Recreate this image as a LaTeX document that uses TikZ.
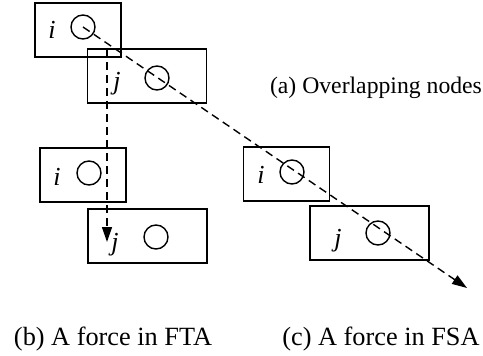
\documentclass[tikz,border=0pt]{standalone}
\usepackage{fontspec}
\setmainfont{Liberation Serif}
\usetikzlibrary{arrows.meta}
\begin{document}
\begin{tikzpicture}[x=1pt,y=-1pt,
  smallbox/.style={draw,line width=1.6pt,minimum width=86pt,minimum height=54pt,inner sep=0pt},
  widebox/.style={draw,line width=1.6pt,minimum width=119pt,minimum height=54pt,inner sep=0pt},
  dot/.style={draw,circle,line width=1.4pt,minimum size=24pt,inner sep=0pt},
  lbl/.style={anchor=base,inner sep=0pt,font=\fontsize{26}{30}\selectfont\itshape},
  caption/.style={anchor=base,inner sep=0pt,font=\fontsize{26.3}{30}\selectfont},
  force/.style={line width=1.4pt,dash pattern=on 8pt off 5pt,-{Triangle[length=15pt,width=10pt]}}]
  \useasboundingbox (0,0) rectangle (483,356);

  % (a) overlapping nodes
  \node[smallbox] (ia) at (78,30) {};
  \node[widebox]  (ja) at (147,76) {};
  \node[dot] (cia) at (83,27) {};
  \node[dot] (cja) at (157,78) {};
  \node[lbl] (lia) at (52,38) {i};
  \node[lbl] (lja) at (117,89) {j};

  % (b) force in FTA
  \node[smallbox] (ib) at (83,175) {};
  \node[widebox]  (jb) at (147.5,236) {};
  \node[dot] (cib) at (89,173) {};
  \node[dot] (cjb) at (156,237) {};
  \node[lbl] (lib) at (57,185) {i};
  \node[lbl] (ljb) at (115,250) {j};

  % (c) force in FSA
  \node[smallbox] (ic) at (286.5,174) {};
  \node[widebox]  (jc) at (369.5,233) {};
  \node[dot] (cic) at (292,172) {};
  \node[dot] (cjc) at (378,233) {};
  \node[lbl] (lic) at (261,183) {i};
  \node[lbl] (ljc) at (338,246) {j};

  % force directions
  \coordinate (vstart) at (107,49);
  \coordinate (vend) at (107,242);
  \coordinate (dend) at (467,288);
  \draw[force] (vstart) -- (vend);
  \draw[force] (cia.center) -- (dend);

  % captions
  \node[anchor=base,inner sep=0pt,font=\fontsize{23.7}{28}\selectfont] (capa) at (376,93) {(a) Overlapping nodes};
  \node[caption] (capb) at (113,345) {(b) A force in FTA};
  \node[caption] (capc) at (381,345) {(c) A force in FSA};
\end{tikzpicture}
\end{document}
